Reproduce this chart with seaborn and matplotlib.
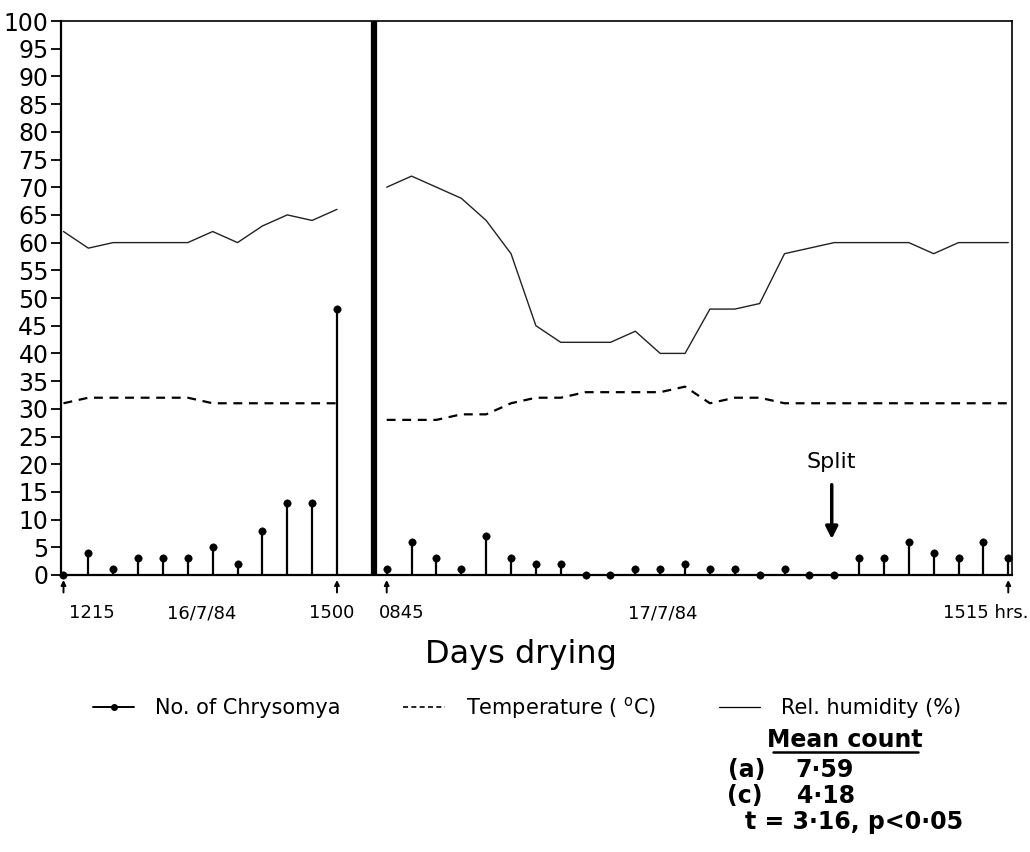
import matplotlib
matplotlib.use("Agg")
import matplotlib.pyplot as plt
import seaborn as sns
import pandas as pd
from matplotlib.lines import Line2D

# 数据
left_count = [0, 4, 1, 3, 3, 3, 5, 2, 8, 13, 13, 48]
right_count = [1, 6, 3, 1, 7, 3, 2, 2, 0, 0, 1, 1, 2, 1, 1, 0, 1, 0, 0, 3, 3, 6, 4, 3, 6, 3]
left_temp = [31, 32, 32, 32, 32, 32, 31, 31, 31, 31, 31, 31]
right_temp = [28, 28, 28, 29, 29, 31, 32, 32, 33, 33, 33, 33, 34, 31, 32, 32, 31,
              31, 31, 31, 31, 31, 31, 31, 31, 31]
left_hum = [62, 59, 60, 60, 60, 60, 62, 60, 63, 65, 64, 66]
right_hum = [70, 72, 70, 68, 64, 58, 45, 42, 42, 42, 44, 40, 40, 48, 48, 49, 58,
             59, 60, 60, 60, 60, 58, 60, 60, 60]

tick_labels = ["1215", "16/7/84", "1500", "0845", "17/7/84", "1515 hrs."]
tick_pos = [1.15, 5.55, 10.8, 13.6, 24.1, 37.1]
arrow_idx = [0, 11, 13, 38]

left_x = list(range(len(left_count)))
right_x = list(range(13, 13 + len(right_count)))

day1 = pd.DataFrame({"x": left_x, "count": left_count, "temp": left_temp, "hum": left_hum})
day2 = pd.DataFrame({"x": right_x, "count": right_count, "temp": right_temp, "hum": right_hum})

sns.set_style("white")
plt.rcParams['font.family'] = ['DejaVu Sans']
plt.rcParams['text.color'] = 'black'
plt.rcParams['xtick.color'] = 'black'
plt.rcParams['ytick.color'] = 'black'
plt.rcParams['axes.labelcolor'] = 'black'

fig = plt.figure(figsize=(10.3, 8.52), dpi=100)
ax = fig.add_axes([61 / 1030, 1 - 575 / 852, 951 / 1030, 554 / 852])

for d in (day1, day2):
    sns.lineplot(data=d, x="x", y="hum", ax=ax, color="#222222", lw=1.0)
    sns.lineplot(data=d, x="x", y="temp", ax=ax, color="black", lw=1.6, dashes=False,
                 linestyle=(0, (4, 3)))
    ax.vlines(d["x"], 0, d["count"], color="black", lw=1.6)
    sns.scatterplot(data=d, x="x", y="count", ax=ax, color="black", s=28, marker="o",
                    edgecolor="black", clip_on=False, zorder=5)

# 两天之间的分隔粗线
ax.axvline(12.5, color="black", lw=4.5)

ax.set_xlim(-0.1, 38.15)
ax.set_ylim(0, 100)
ax.set_yticks(range(0, 101, 5))
ax.tick_params(axis="y", direction="out", length=7, width=1.3, labelsize=17, pad=2, left=True)
ax.set_xticks(tick_pos)
ax.set_xticklabels(tick_labels, fontsize=13)
ax.tick_params(axis="x", length=0, pad=21)
ax.set_xlabel("")
ax.set_ylabel("")
for s in ["left", "bottom"]:
    ax.spines[s].set_linewidth(1.6)
for s in ["top", "right"]:
    ax.spines[s].set_linewidth(1.2)
for s in ax.spines.values():
    s.set_color("black")

# 时间箭头
for i in arrow_idx:
    ax.annotate("", xy=(i, -0.4), xytext=(0, -13), textcoords="offset points",
                arrowprops=dict(arrowstyle="-|>", lw=1.4, color="black", mutation_scale=7),
                annotation_clip=False)

# Split 标记
ax.annotate("", xy=(30.9, 6), xytext=(30.9, 16.8),
            arrowprops=dict(arrowstyle="-|>", lw=2.5, color="black", mutation_scale=18))
ax.text(30.9, 20.4, "Split", ha="center", va="center", fontsize=16)

fig.text(521 / 1030, 1 - 655 / 852, "Days drying", ha="center", va="center", fontsize=23)

handles = [
    Line2D([0, 0.5, 1], [0, 0, 0], color="black", lw=1.4, marker="o", markersize=4,
           markevery=[1]),
    Line2D([], [], color="black", lw=1.2, linestyle=(0, (3, 2))),
    Line2D([], [], color="black", lw=0.9),
]
labels = ["No. of Chrysomya", "Temperature ( $^{\\mathrm{o}}$C)", "Rel. humidity (%)"]
fig.legend(handles, labels, loc="center", bbox_to_anchor=(527 / 1030, 1 - 708 / 852),
           ncol=3, frameon=False, fontsize=15, handlelength=2.0, handletextpad=1.0,
           columnspacing=3.0)

# 手写注释
hand = dict(fontsize=17, fontweight="bold", va="center")
fig.text(845 / 1030, 1 - 740 / 852, "Mean count", ha="center", **hand)
fig.add_artist(Line2D([773 / 1030, 918 / 1030], [1 - 752 / 852, 1 - 752 / 852],
                      color="black", lw=1.8))
fig.text(728 / 1030, 1 - 770 / 852, "(a)", ha="left", **hand)
fig.text(795 / 1030, 1 - 770 / 852, "7·59", ha="left", **hand)
fig.text(727 / 1030, 1 - 796 / 852, "(c)", ha="left", **hand)
fig.text(797 / 1030, 1 - 796 / 852, "4·18", ha="left", **hand)
fig.text(745 / 1030, 1 - 822 / 852, "t = 3·16, p<0·05", ha="left", **hand)

plt.savefig("out.png", dpi=100)
